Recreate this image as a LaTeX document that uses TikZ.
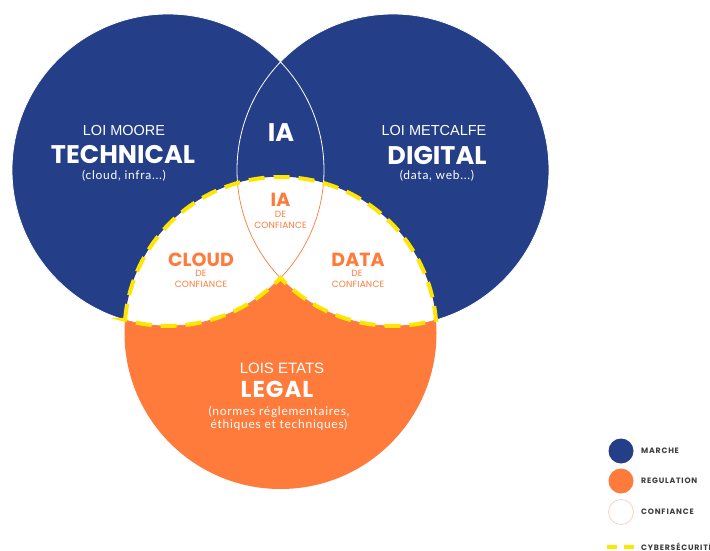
\documentclass[tikz,border=0pt]{standalone}
\usepackage{fontspec}
\setmainfont{Liberation Sans}
\newfontfamily\headfont{Poppins}
\newfontfamily\armfont{Liberation Sans}
\newfontfamily\lightfont{Lato}[LetterSpace=6]
\newfontfamily\smallfont{Poppins}[LetterSpace=2]
\newfontfamily\legfont{Poppins}[LetterSpace=10]
\definecolor{marche}{HTML}{243F87}
\definecolor{regul}{HTML}{FE7B3C}
\definecolor{cyber}{HTML}{FFE600}
\definecolor{confb}{HTML}{F9D2BF}
\definecolor{legtxt}{HTML}{3C3C3C}
\begin{document}
\begin{tikzpicture}[x=1pt,y=1pt,
  big/.style={font=\headfont\bfseries\fontsize{25.5}{28}\selectfont, text=white, inner sep=0pt},
  mid/.style={font=\headfont\bfseries\fontsize{19}{22}\selectfont, text=regul, inner sep=0pt},
  law/.style={font=\armfont\fontsize{14.5}{17}\selectfont, text=white, inner sep=0pt},
  paren/.style={font=\lightfont\fontsize{12}{14}\selectfont, text=white, inner sep=0pt},
  conf/.style={font=\smallfont\fontsize{9}{11}\selectfont, text=regul, inner sep=0pt},
  thinw/.style={draw=white, line width=0.8pt},
  thino/.style={draw=regul, line width=0.7pt},
  cyberline/.style={draw=cyber, line width=4pt, dash pattern=on 16pt off 9pt},
  legdot/.style={circle, minimum size=25pt, inner sep=0pt},
  legtext/.style={font=\legfont\bfseries\fontsize{7.8}{9}\selectfont, text=legtxt, anchor=west, inner sep=0pt}
]
\useasboundingbox (0,0) rectangle (710,-551);
\coordinate (L) at (168,-170);
\coordinate (R) at (393,-170);
\coordinate (B) at (280.5,-333);
% market circles
\fill[marche] (L) circle[radius=156];
\fill[marche] (R) circle[radius=156];
\draw[thinw] (L) circle[radius=156];
\draw[thinw] (R) circle[radius=156];
% regulation circle
\fill[regul] (B) circle[radius=156];
\begin{scope}
  \clip (B) circle[radius=156];
  \fill[white] (L) circle[radius=156];
  \fill[white] (R) circle[radius=156];
  \draw[thino] (L) circle[radius=156];
  \draw[thino] (R) circle[radius=156];
\end{scope}
% cybersecurity boundary
\draw[cyberline] (B) ++(175.18:156)
  arc[start angle=175.18, end angle=4.82, radius=156]
  arc[start angle=-74.0, end angle=-136.15, radius=156]
  arc[start angle=-43.85, end angle=-106.0, radius=156] -- cycle;
% texts
\node[law] (moore) at (124,-130.5) {LOI MOORE};
\node[big] (tech) at (123,-155) {TECHNICAL};
\node[paren] (techp) at (124,-175.5) {(cloud, infra...)};
\node[big] (ia) at (281,-133) {IA};
\node[law] (metc) at (434,-130.5) {LOI METCALFE};
\node[big] (digi) at (437,-155.5) {DIGITAL};
\node[paren] (digip) at (437,-175.5) {(data, web...)};
\node[mid] (iac) at (280.5,-200) {IA};
\node[conf] (iade) at (280.5,-214) {DE};
\node[conf] (iaconf) at (280.5,-225.5) {CONFIANCE};
\node[mid] (cloud) at (201,-259.5) {CLOUD};
\node[conf] (clde) at (201,-273) {DE};
\node[conf] (clconf) at (201,-284) {CONFIANCE};
\node[mid] (data) at (358,-259.5) {DATA};
\node[conf] (dade) at (357,-273) {DE};
\node[conf] (daconf) at (358,-284) {CONFIANCE};
\node[law, font=\armfont\fontsize{15}{17}\selectfont] (lois) at (282,-368) {LOIS ETATS};
\node[big, font=\headfont\bfseries\fontsize{23}{26}\selectfont] (legal) at (277,-389.5) {L\kern1pt E\kern1pt G\kern1pt A\kern1pt L};
\node[paren] (norm1) at (279,-412) {(normes réglementaires,};
\node[paren] (norm2) at (279,-425) {éthiques et techniques)};
% legend
\node[legdot, fill=marche] (lgm) at (621,-451) {};
\node[legdot, fill=regul] (lgr) at (621,-481) {};
\node[legdot, fill=white, draw=confb, line width=0.8pt] (lgc) at (621,-512) {};
\coordinate (ly1) at (607,-547);
\coordinate (ly2) at (634,-547);
\draw[draw=cyber, line width=4pt, dash pattern=on 10pt off 7pt] (ly1) -- (ly2);
\node[legtext] (ltm) at (641,-451) {MARCHE};
\node[legtext] (ltr) at (641,-481) {REGULATION};
\node[legtext] (ltc) at (641,-512) {CONFIANCE};
\node[legtext] (lty) at (641,-547) {CYBERSÉCURITÉ};
\end{tikzpicture}
\end{document}
